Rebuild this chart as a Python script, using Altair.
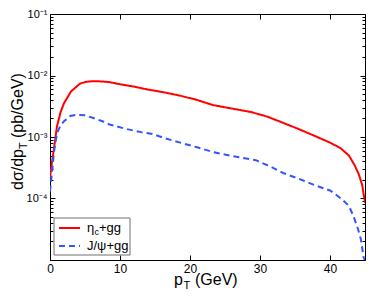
import math
import altair as alt
import pandas as pd

# ---------------- data ----------------
series_names = ["eta_c+gg", "J/psi+gg"]

eta_pt = [0, 0.3, 0.6, 1.0, 1.5, 2.0, 3.0, 4.3, 5.2, 6.2, 7.5, 8.5, 10, 12, 14, 16,
          18.6, 21, 23.3, 26, 28.7, 31, 33.3, 35.5, 38, 40, 41.5, 42.7, 43.5, 44.1, 44.6, 45]
eta_val = [2.2e-4, 4.0e-4, 6.9e-4, 1.5e-3, 2.5e-3, 3.55e-3, 5.5e-3, 7.4e-3, 7.9e-3, 8.1e-3,
           8.0e-3, 7.8e-3, 7.2e-3, 6.6e-3, 5.9e-3, 5.4e-3, 4.7e-3, 4.0e-3, 3.3e-3, 2.9e-3,
           2.55e-3, 2.15e-3, 1.7e-3, 1.35e-3, 1.02e-3, 8.1e-4, 6.6e-4, 5.0e-4, 3.5e-4,
           2.5e-4, 1.66e-4, 8.5e-5]

psi_pt = [0, 0.3, 0.6, 1.0, 1.5, 2.0, 2.9, 3.8, 5.0, 6.2, 7.5, 8.5, 10.9, 13, 14.6, 16.5,
          18.6, 21, 23.3, 26, 29.4, 31.5, 33.3, 36, 38, 40, 40.8, 41.8, 42.7, 43.4, 44.0,
          44.4, 44.8, 45]
psi_val = [1.3e-4, 2.8e-4, 6.0e-4, 1.15e-3, 1.55e-3, 1.8e-3, 2.2e-3, 2.3e-3, 2.25e-3,
           2.04e-3, 1.8e-3, 1.6e-3, 1.35e-3, 1.2e-3, 1.12e-3, 9.5e-4, 8.1e-4, 6.8e-4,
           5.7e-4, 4.9e-4, 4.2e-4, 3.3e-4, 2.6e-4, 2.0e-4, 1.62e-4, 1.35e-4, 1.17e-4,
           9.5e-5, 7.6e-5, 5.0e-5, 3.2e-5, 2.2e-5, 1.1e-5, 1.0e-5]

x_domain = [0, 45]
y_domain = [1e-5, 1e-1]
x_tick_values = [0, 10, 20, 30, 40]
y_major_values = [1e-5, 1e-4, 1e-3, 1e-2, 1e-1]
y_major_labels = ["", "10⁻⁴", "10⁻³", "10⁻²", "10⁻¹"]
y_minor_values = [m * 10.0 ** e for e in range(-5, -1) for m in range(2, 10)]

legend_labels = ["η", "c", "+gg", "J/ψ+gg"]
x_title = ["p", "T", "(GeV)"]
y_title = ["dσ/dp", "T", "(pb/GeV)"]

colors = ["#ff0000", "#3355ff"]
dashes = [[1, 0], [6, 4]]
FONT = "Liberation Sans"

# ---------------- chart ----------------
df = pd.DataFrame({
    "pT": eta_pt + psi_pt,
    "val": eta_val + psi_val,
    "series": [series_names[0]] * len(eta_pt) + [series_names[1]] * len(psi_pt),
})
one = pd.DataFrame({"k": [0]})

xs = alt.Scale(domain=x_domain, nice=False, zero=False)
ys = alt.Scale(type="log", domain=y_domain, nice=False)

expr = ""
for v, l in zip(y_major_values, y_major_labels):
    expr += f"abs(log(datum.value)/LN10 - ({math.log10(v)})) < 0.01 ? '{l}' : "
expr += "''"

common = dict(domain=False, grid=False, title=None, tickColor="black",
              labelColor="black", labelFont=FONT, labelOverlap=False)

x_bottom = alt.Axis(orient="bottom", values=x_tick_values, tickSize=5, offset=-5,
                    labelFontSize=12, labelPadding=3, labelFlush=False, **common)
x_top = alt.Axis(orient="top", values=x_tick_values, tickSize=5, offset=-5,
                 labels=False, **common)
y_left = alt.Axis(orient="left", values=y_major_values, labelExpr=expr, tickSize=5,
                  offset=-5, labelFontSize=11, labelPadding=3, **common)
y_left_minor = alt.Axis(orient="left", values=y_minor_values, tickSize=3, offset=-3,
                        labels=False, **common)
y_right = alt.Axis(orient="right", values=y_major_values, tickSize=5, offset=-5,
                   labels=False, **common)
y_right_minor = alt.Axis(orient="right", values=y_minor_values, tickSize=3, offset=-3,
                         labels=False, **common)

lines = alt.Chart(df).mark_line(clip=True, strokeWidth=2).encode(
    x=alt.X("pT:Q", scale=xs, axis=x_bottom),
    y=alt.Y("val:Q", scale=ys, axis=y_left),
    color=alt.Color("series:N", scale=alt.Scale(domain=series_names, range=colors), legend=None),
    strokeDash=alt.StrokeDash("series:N", scale=alt.Scale(domain=series_names, range=dashes), legend=None),
)


def axis_layer(xa, ya):
    return alt.Chart(df).mark_line(opacity=0).encode(
        x=alt.X("pT:Q", scale=xs, axis=xa),
        y=alt.Y("val:Q", scale=ys, axis=ya),
    )


ax_layers = [
    axis_layer(x_top, None),
    axis_layer(None, y_left_minor),
    axis_layer(None, y_right),
    axis_layer(None, y_right_minor),
]


def txt(s, x, y, size, angle=0, align="left"):
    return alt.Chart(one).mark_text(text=s, font=FONT, fontSize=size, align=align,
                                    baseline="alphabetic", angle=angle, color="black").encode(
        x=alt.value(x), y=alt.value(y))


# titles (positions relative to plot origin)
titles = [
    txt(x_title[0], 124, 271, 16),
    txt(x_title[1], 133.5, 274.5, 11),
    txt(x_title[2], 145, 271, 16),
    txt(y_title[0], -27, 176, 16, angle=270),
    txt(y_title[1], -23, 135, 11, angle=270),
    txt(y_title[2], -27, 124, 16, angle=270),
]

# legend
box = alt.Chart(one).mark_rect(fill="white", stroke="#707070", strokeWidth=1).encode(
    x=alt.value(4), x2=alt.value(80), y=alt.value(204), y2=alt.value(241))
sample_red = alt.Chart(one).mark_rule(color=colors[0], strokeWidth=2).encode(
    x=alt.value(9), x2=alt.value(30), y=alt.value(214))
sample_blue = alt.Chart(one).mark_rule(color=colors[1], strokeWidth=2, strokeDash=dashes[1]).encode(
    x=alt.value(9), x2=alt.value(30), y=alt.value(232))
legend = [
    box, sample_red, sample_blue,
    txt(legend_labels[0], 37, 218, 13),
    txt(legend_labels[1], 44.5, 221, 9),
    txt(legend_labels[2], 49, 218, 13),
    txt(legend_labels[3], 37, 236, 13),
]

chart = alt.layer(lines, *ax_layers, *titles, *legend).resolve_axis(
    x="independent", y="independent"
).properties(
    width=315, height=246,
    padding={"left": 42, "top": 6, "right": 1, "bottom": 31},
    autosize=alt.AutoSizeParams(type="none"),
    background="white",
).configure_view(stroke="black", strokeWidth=1)

chart.save("out.html", embed_options={"renderer": "svg", "actions": False})
